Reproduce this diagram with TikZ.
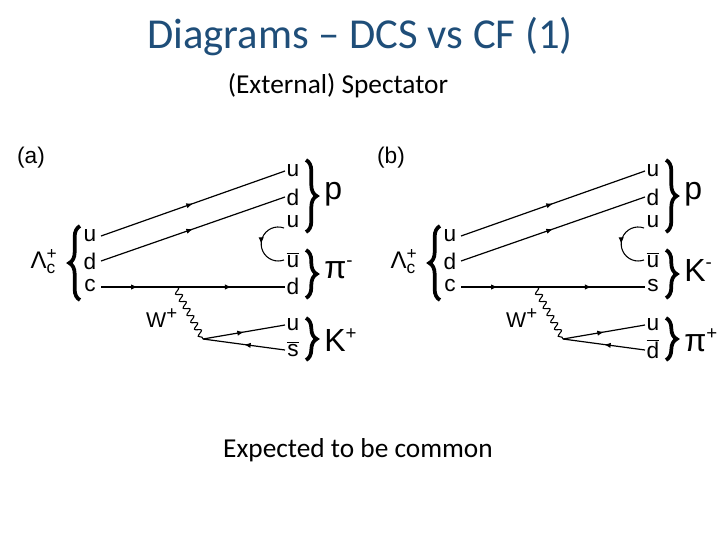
\documentclass[tikz,border=0pt]{standalone}
\usepackage{fontspec}
\setmainfont{Carlito}
\newfontfamily\arl{Liberation Sans}
\usetikzlibrary{decorations.pathmorphing,decorations.pathreplacing,decorations.markings,arrows.meta}
\definecolor{ttl}{RGB}{31,78,121}
\newcommand{\supsub}[2]{\ensuremath{^{\mbox{\arl\fontsize{13}{13}\selectfont #1}}_{\mbox{\arl\fontsize{13}{13}\selectfont #2}}}}
\newcommand{\sups}[1]{\ensuremath{^{\mbox{\arl\fontsize{14}{14}\selectfont #1}}}}
\begin{document}
\begin{tikzpicture}[x=0.75pt,y=-0.75pt,
 q/.style={font=\arl\fontsize{17}{17}\selectfont,inner sep=0pt},
 h/.style={font=\arl\fontsize{24}{24}\selectfont,inner sep=0pt,anchor=west},
 br/.style={decorate,decoration={brace,amplitude=8pt},line width=2.8pt},
 fl/.style={line width=0.9pt,postaction={decorate},decoration={markings,mark=at position 0.5 with {\arrow{Latex[length=5pt,width=4pt]}}}},
 fl2/.style={line width=0.9pt,postaction={decorate},decoration={markings,mark=at position 0.2 with {\arrow{Latex[length=5pt,width=4pt]}},mark=at position 0.71 with {\arrow{Latex[length=5pt,width=4pt]}}}},
 wv/.style={line width=0.8pt,decorate,decoration={snake,amplitude=2.2pt,segment length=6pt}}]
\useasboundingbox (0,0) rectangle (720,540);
\node[text=ttl,font=\fontsize{32}{32}\selectfont] (title) at (360,37) {Diagrams – DCS vs CF (1)};
\node[font=\fontsize{20.5}{20.5}\selectfont] (spec) at (338,86) {(External) Spectator};
\node[font=\fontsize{20.5}{20.5}\selectfont] (exp) at (358,450) {Expected to be common};
\foreach \dx/\lab/\mB/\mC/\qa/\qb in {0/a/{π\sups{-}}/{K\sups{+}}/d/{$\overline{\mbox{s}}$}, 360/b/{K\sups{-}}/{π\sups{+}}/s/{$\overline{\mbox{d}}$}}{
\begin{scope}[xshift=\dx*0.75pt]
\node[font=\arl\fontsize{17}{17}\selectfont] (lab\lab) at (31,158) {(\lab)};
\node[font=\arl\fontsize{18}{18}\selectfont,inner sep=0pt] (Lc\lab) at (44,262) {Λ\supsub{+}{c}};
\draw[br] (80,300) -- (80,226);
\node[q] (lu\lab) at (90,236) {u};
\node[q] (ld\lab) at (90,261) {d};
\node[q] (lc\lab) at (90,286) {c};
\node[q] (ru1\lab) at (293,171) {u};
\node[q] (rd\lab) at (293,197) {d};
\node[q] (ru2\lab) at (293,222) {u};
\node[q] (rub\lab) at (293,260) {$\overline{\mbox{u}}$};
\node[q] (rd2\lab) at (293,286) {\qa};
\node[q] (ku\lab) at (293,325) {u};
\node[q] (ks\lab) at (293,349) {\qb};
\coordinate (W1\lab) at (175,287);
\coordinate (W2\lab) at (203,339);
\draw[fl] (101,236) -- (285,171);
\draw[fl] (101,261) -- (285,197);
\draw[fl2] (101,287) -- (285,287);
\draw[wv] (W1\lab) -- (W2\lab);
\draw[fl] (W2\lab) -- (285,325);
\draw[fl] (285,350) -- (W2\lab);
\node[font=\arl\fontsize{16}{16}\selectfont,inner sep=0pt] (W\lab) at (162,318) {W\sups{+}};
\draw[line width=0.8pt,postaction={decorate},decoration={markings,mark=at position 0.5 with {\arrow{Latex[length=5pt,width=4pt]}}}] (284,228) arc[start angle=-70,end angle=-290,radius=17];
\draw[br] (306,160) -- (306,232);
\draw[br] (306,250) -- (306,298);
\draw[br] (306,318) -- (306,360);
\node[h] (p\lab) at (324,194) {p};
\node[h] (m\lab) at (324,270) {\mB};
\node[h] (k\lab) at (324,340) {\mC};
\end{scope}}
\end{tikzpicture}
\end{document}
